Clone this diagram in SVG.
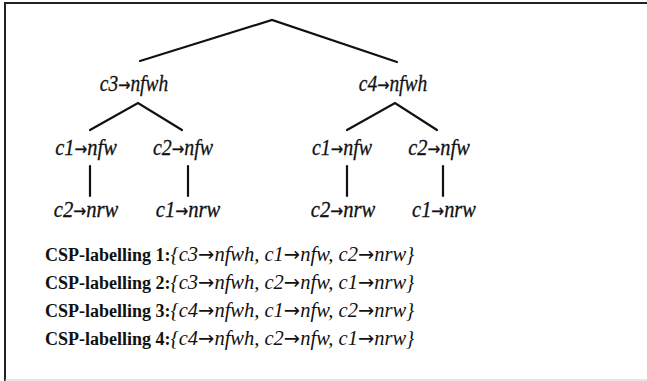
<svg xmlns="http://www.w3.org/2000/svg" width="647" height="381" viewBox="0 0 647 381">
<style>
.lbl{font-family:"Liberation Serif","Times New Roman",serif;font-style:italic;font-size:24px;fill:#111;stroke:#111;stroke-width:0.3;text-anchor:middle}
.csp{font-family:"Liberation Serif","Times New Roman",serif;font-size:18px;fill:#111}
.csp .b{font-weight:bold}
.csp .i{font-style:italic;font-size:20.5px}
.ar{font-family:"DejaVu Sans",sans-serif;font-style:normal;font-size:0.75em}
.csp .ar{font-size:0.95em}
.edge{stroke:#111;stroke-width:2.2;fill:none;stroke-linecap:round}
.frame{stroke:#222;stroke-width:2;fill:none}
</style>
<rect width="647" height="381" fill="#fff"/>
<g id="frame">
<path class="frame" d="M5,381 V3 H647"/>
<path d="M5,380 H647" stroke="#ccc" stroke-width="1"/>
</g>
<g id="connectors">
<path class="edge" d="M140,61 L272,20 L397,62"/>
<path class="edge" d="M90,130 L138,103 L182,130"/>
<path class="edge" d="M347,130 L395,103 L437,130"/>
<path class="edge" d="M90,166 V196"/>
<path class="edge" d="M188,166 V196"/>
<path class="edge" d="M347,166 V196"/>
<path class="edge" d="M443,166 V196"/>
</g>
<g id="n_c3"><text class="lbl" transform="translate(134,91) scale(0.81,1)">c3<tspan class="ar">→</tspan>nfwh</text></g>
<g id="n_c4"><text class="lbl" transform="translate(393,91) scale(0.81,1)">c4<tspan class="ar">→</tspan>nfwh</text></g>
<g id="n_c3_c1"><text class="lbl" transform="translate(86,155) scale(0.85,1)">c1<tspan class="ar">→</tspan>nfw</text></g>
<g id="n_c3_c2"><text class="lbl" transform="translate(183,155) scale(0.83,1)">c2<tspan class="ar">→</tspan>nfw</text></g>
<g id="n_c4_c1"><text class="lbl" transform="translate(342,155) scale(0.83,1)">c1<tspan class="ar">→</tspan>nfw</text></g>
<g id="n_c4_c2"><text class="lbl" transform="translate(439,155) scale(0.85,1)">c2<tspan class="ar">→</tspan>nfw</text></g>
<g id="n_c3_c1_c2"><text class="lbl" transform="translate(86,217) scale(0.86,1)">c2<tspan class="ar">→</tspan>nrw</text></g>
<g id="n_c3_c2_c1"><text class="lbl" transform="translate(188,217) scale(0.86,1)">c1<tspan class="ar">→</tspan>nrw</text></g>
<g id="n_c4_c1_c2"><text class="lbl" transform="translate(343,217) scale(0.86,1)">c2<tspan class="ar">→</tspan>nrw</text></g>
<g id="n_c4_c2_c1"><text class="lbl" transform="translate(444,217) scale(0.85,1)">c1<tspan class="ar">→</tspan>nrw</text></g>
<g id="labellings">
<text class="csp" x="45" y="261"><tspan class="b">CSP-labelling 1:</tspan><tspan class="i">{c3<tspan class="ar">→</tspan>nfwh, c1<tspan class="ar">→</tspan>nfw, c2<tspan class="ar">→</tspan>nrw}</tspan></text>
<text class="csp" x="45" y="289"><tspan class="b">CSP-labelling 2:</tspan><tspan class="i">{c3<tspan class="ar">→</tspan>nfwh, c2<tspan class="ar">→</tspan>nfw, c1<tspan class="ar">→</tspan>nrw}</tspan></text>
<text class="csp" x="45" y="317"><tspan class="b">CSP-labelling 3:</tspan><tspan class="i">{c4<tspan class="ar">→</tspan>nfwh, c1<tspan class="ar">→</tspan>nfw, c2<tspan class="ar">→</tspan>nrw}</tspan></text>
<text class="csp" x="45" y="345"><tspan class="b">CSP-labelling 4:</tspan><tspan class="i">{c4<tspan class="ar">→</tspan>nfwh, c2<tspan class="ar">→</tspan>nfw, c1<tspan class="ar">→</tspan>nrw}</tspan></text>
</g>
</svg>
